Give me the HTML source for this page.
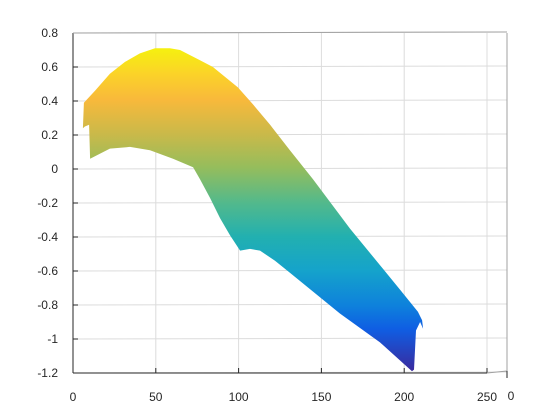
<!DOCTYPE html>
<html><head><meta charset="utf-8"><style>
body{margin:0;background:#fff}
svg{display:block;font-family:"Liberation Sans",Arial,sans-serif}
</style></head><body>
<svg id="chart" width="560" height="420" viewBox="0 0 560 420">
<defs>
<linearGradient id="parula" gradientUnits="userSpaceOnUse" x1="0" y1="48" x2="0" y2="371">
<stop offset="0" stop-color="#f5f10f"/>
<stop offset="0.08" stop-color="#fbd328"/>
<stop offset="0.16" stop-color="#f8b93b"/>
<stop offset="0.27" stop-color="#c8b94a"/>
<stop offset="0.37" stop-color="#95bd5c"/>
<stop offset="0.48" stop-color="#52b98c"/>
<stop offset="0.585" stop-color="#22b0b0"/>
<stop offset="0.69" stop-color="#15a3cb"/>
<stop offset="0.8" stop-color="#0e80dc"/>
<stop offset="0.87" stop-color="#0f5ee3"/>
<stop offset="1" stop-color="#3a2a9e"/>
</linearGradient>
</defs>
<g id="grid"></g>
<g id="axes"></g>
<path id="surf" fill="url(#parula)"/>
</svg>
<script>
const xTicks=[0,50,100,150,200,250];
const yTicks=[0.8,0.6,0.4,0.2,0,-0.2,-0.4,-0.6,-0.8,-1,-1.2];
const yTickLabels=["0.8","0.6","0.4","0.2","0","-0.2","-0.4","-0.6","-0.8","-1","-1.2"];
const edgeX=[6.0,6.6,13.3,22.3,31.4,40.4,49.5,58.5,64.6,76.7,84.5,99.6,108.7,119.0,131.0,144.9,167.2,197.5,208.3,210.8,211.4,209.6,207.1,205.9,204.7,185.4,161.2,131.0,122.0,112.9,106.9,100.9,94.8,88.8,82.7,76.7,72.5,60.4,46.5,34.4,22.3,10.3,9.7,7.2];
const edgeZ=[0.24,0.39,0.46,0.56,0.63,0.68,0.71,0.71,0.70,0.64,0.60,0.48,0.38,0.26,0.11,-0.06,-0.35,-0.71,-0.84,-0.89,-0.94,-0.90,-0.95,-1.18,-1.19,-1.02,-0.85,-0.61,-0.54,-0.48,-0.47,-0.48,-0.39,-0.29,-0.17,-0.06,0.01,0.06,0.11,0.13,0.12,0.06,0.26,0.25];
const X=v=>73+v*(414/250);
const Y=v=>169-v*170;
const NS="http://www.w3.org/2000/svg";
const grid=document.getElementById('grid'),axes=document.getElementById('axes');
function mk(tag,attrs,parent){const e=document.createElementNS(NS,tag);for(const k in attrs)e.setAttribute(k,attrs[k]);parent.appendChild(e);return e;}
xTicks.forEach(t=>{
  const l=mk('line',{x1:X(t),x2:X(t),y1:Y(0.8),y2:Y(-1.2),stroke:'#dcdcdc','stroke-width':1},grid);
  
  
  const tk=mk('line',{x1:X(t),x2:X(t),y1:Y(-1.2),y2:Y(-1.2)-5,stroke:'#262626'},axes);
  
  
  const tx=mk('text',{x:X(t),y:401,'text-anchor':'middle','font-size':12,fill:'#262626'},axes);
  tx.textContent=t;
  
  
});
yTicks.forEach((t,i)=>{
  const l=mk('line',{x1:X(0),x2:507,y1:Y(t),y2:Y(t)-1,stroke:'#dcdcdc','stroke-width':1},grid);
  
  
  const tk=mk('line',{x1:X(0),x2:X(0)+5,y1:Y(t),y2:Y(t),stroke:'#262626'},axes);
  
  
  const tx=mk('text',{x:58,y:Y(t)+4,'text-anchor':'end','font-size':12,fill:'#262626'},axes);
  tx.textContent=yTickLabels[i];
  
  
});
const ax=[[X(0),Y(0.8),X(0),Y(-1.2),'y-axis-line'],[X(0),Y(-1.2),X(250),Y(-1.2),'x-axis-line'],[X(250),Y(-1.2),507,371,'base-edge'],[507,371,507,33,'right-edge'],[X(0),Y(0.8),507,32,'top-edge']];
ax.forEach(a=>{
  const l=mk('line',{x1:a[0],y1:a[1],x2:a[2],y2:a[3],stroke:a[4].includes('axis')?'#262626':'#a0a0a0'},axes);
  
  
});
const tk0=mk('line',{x1:507,y1:371,x2:507,y2:378,stroke:'#262626'},axes);


const z0=mk('text',{x:511,y:400,'text-anchor':'middle','font-size':12,fill:'#262626'},axes);
z0.textContent='0';


let d='';
edgeX.forEach((v,i)=>{d+=(i?'L':'M')+X(v).toFixed(1)+' '+Y(edgeZ[i]).toFixed(1);});
document.getElementById('surf').setAttribute('d',d+'Z');
</script>
</body></html>
